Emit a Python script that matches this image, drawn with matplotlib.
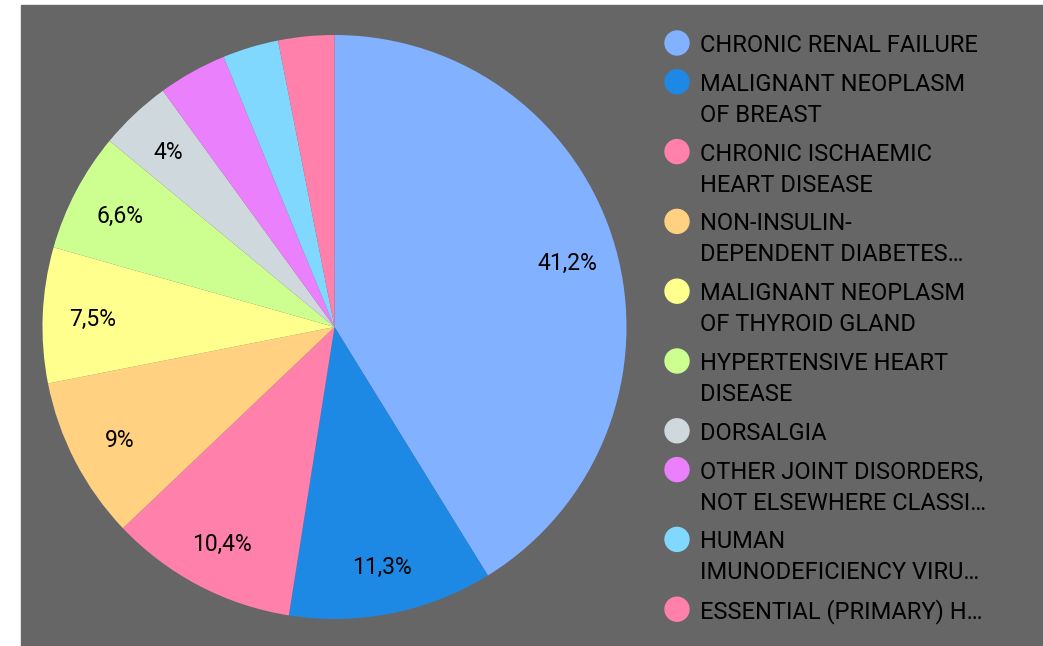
import matplotlib.pyplot as plt
import numpy as np
from matplotlib.patches import Circle, Rectangle

# Data
diseases = [
    "CHRONIC RENAL FAILURE",
    "MALIGNANT NEOPLASM\nOF BREAST",
    "CHRONIC ISCHAEMIC\nHEART DISEASE",
    "NON-INSULIN-\nDEPENDENT DIABETES\u2026",
    "MALIGNANT NEOPLASM\nOF THYROID GLAND",
    "HYPERTENSIVE HEART\nDISEASE",
    "DORSALGIA",
    "OTHER JOINT DISORDERS,\nNOT ELSEWHERE CLASSI\u2026",
    "HUMAN\nIMUNODEFICIENCY VIRU\u2026",
    "ESSENTIAL (PRIMARY) H\u2026",
]
shares = [41.2, 11.3, 10.4, 9.0, 7.5, 6.6, 4.0, 3.8, 3.1, 3.1]
colors = ["#82b1ff", "#1e88e5", "#ff80ab", "#ffd180", "#ffff8d",
          "#ccff90", "#cfd8dc", "#ea80fc", "#80d8ff", "#ff80ab"]

plt.rcParams['font.family'] = ['Roboto', 'DejaVu Sans']

W, H = 1043, 646
fig = plt.figure(figsize=(W / 100, H / 100), dpi=100)
fig.patch.set_facecolor("white")

# gray panel
bg = fig.add_axes([0, 0, 1, 1])
bg.set_xlim(0, W)
bg.set_ylim(H, 0)
bg.axis("off")
bg.add_patch(Rectangle((21, 5), W - 21, H - 5, color="#666666", zorder=0))


def fmt(p):
    if p < 3.9:
        return ""
    s = f"{p:.1f}".rstrip("0").rstrip(".")
    return s.replace(".", ",") + "%"


# pie
cx, cy, r = 334.5, 327, 292
ax = fig.add_axes([(cx - r) / W, (H - cy - r) / H, 2 * r / W, 2 * r / H])
wedges, texts = ax.pie(shares, colors=colors, startangle=90, counterclock=False,
                       radius=1, wedgeprops=dict(linewidth=0))
total = sum(shares)
for w, v in zip(wedges, shares):
    mid = np.deg2rad((w.theta1 + w.theta2) / 2)
    lab = fmt(v / total * 100)
    if lab:
        ax.text(0.83 * np.cos(mid), 0.83 * np.sin(mid), lab, ha="center",
                va="center_baseline", fontsize=16.5, color="#000000")
ax.set_xlim(-1, 1)
ax.set_ylim(-1, 1)
ax.set_aspect("equal")
ax.axis("off")

# legend
y = 43
for name, c in zip(diseases, colors):
    bg.add_patch(Circle((677, y), 12, color=c, zorder=2))
    lines = name.split("\n")
    for i, ln in enumerate(lines):
        bg.text(700, y + i * 31, ln, ha="left", va="center_baseline",
                fontsize=17, color="#000000")
    y += (len(lines) - 1) * 31 + 38.8

fig.savefig("out.png", dpi=100)
